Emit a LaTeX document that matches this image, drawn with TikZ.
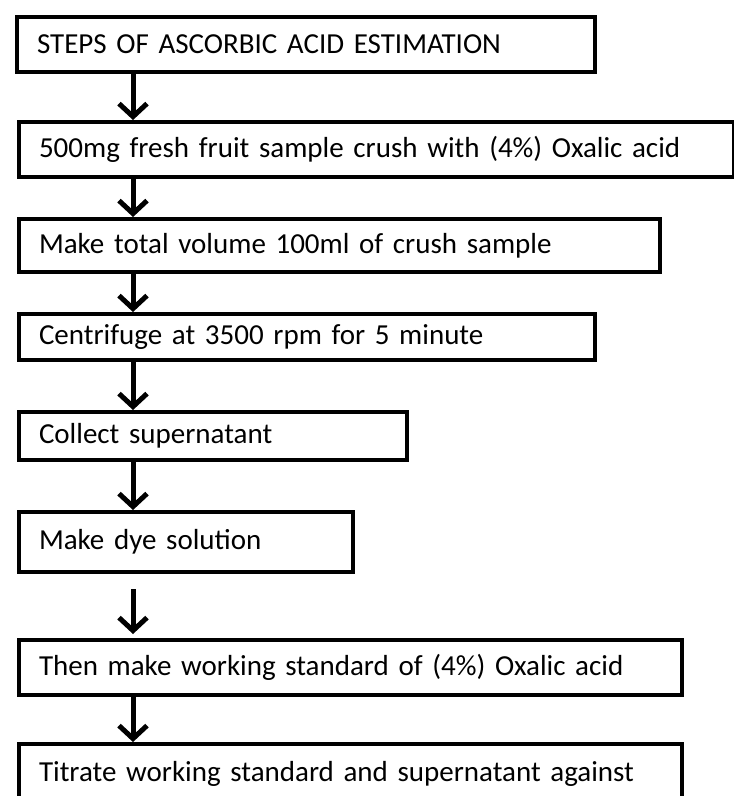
\documentclass[tikz,border=0pt]{standalone}
\usepackage{fontspec}
\setmainfont{Carlito}
\usetikzlibrary{arrows.meta}
\begin{document}
\begin{tikzpicture}
[x=1pt,y=-1pt,
 every node/.style=
   {anchor=north west,rectangle,draw=black,line width=4pt,align=left,
    inner xsep=20pt,inner ysep=3pt,font=\fontsize{29}{33}\selectfont},
 flow/.style={-{Straight Barb[length=13pt,width=28pt]},line width=5pt}]
\useasboundingbox (0,0) rectangle (734,796);
\clip (0,0) rectangle (734,796);
\node [text width=538pt,minimum height=55pt] (title) at (15,15) {STEPS OF ASCORBIC ACID ESTIMATION};
\node [text width=675pt,minimum height=55pt] (crush) at (17,120) {500mg fresh fruit sample crush with (4\%) Oxalic acid};
\node [text width=601pt,minimum height=53pt] (volume) at (17,217) {Make total volume 100ml of crush sample};
\node [text width=536pt,minimum height=46pt] (spin) at (17,312) {Centrifuge at 3500 rpm for 5 minute};
\node [text width=348pt,minimum height=48pt] (collect) at (17,410) {Collect supernatant};
\node [text width=294pt,minimum height=60pt] (dye) at (17,510) {Make dye solution};
\node [text width=623pt,minimum height=55pt] (standard) at (17,638) {Then make working standard of (4\%) Oxalic acid};
\node [text width=623pt,minimum height=60pt] (titrate) at (17,742) {Titrate working standard and supernatant against};
% arrows between the steps
\draw [flow] ([xshift=118pt]title.south west) -- ([xshift=116pt]crush.north west);
\foreach \a/\b in {crush/volume,volume/spin,spin/collect,collect/dye,standard/titrate}
  \draw [flow] ([xshift=116pt]\a.south west) -- ([xshift=116pt]\b.north west);
\draw [flow,shorten <=15pt,shorten >=4pt] ([xshift=116pt]dye.south west) -- ([xshift=116pt]standard.north west);
\end{tikzpicture}
\end{document}
